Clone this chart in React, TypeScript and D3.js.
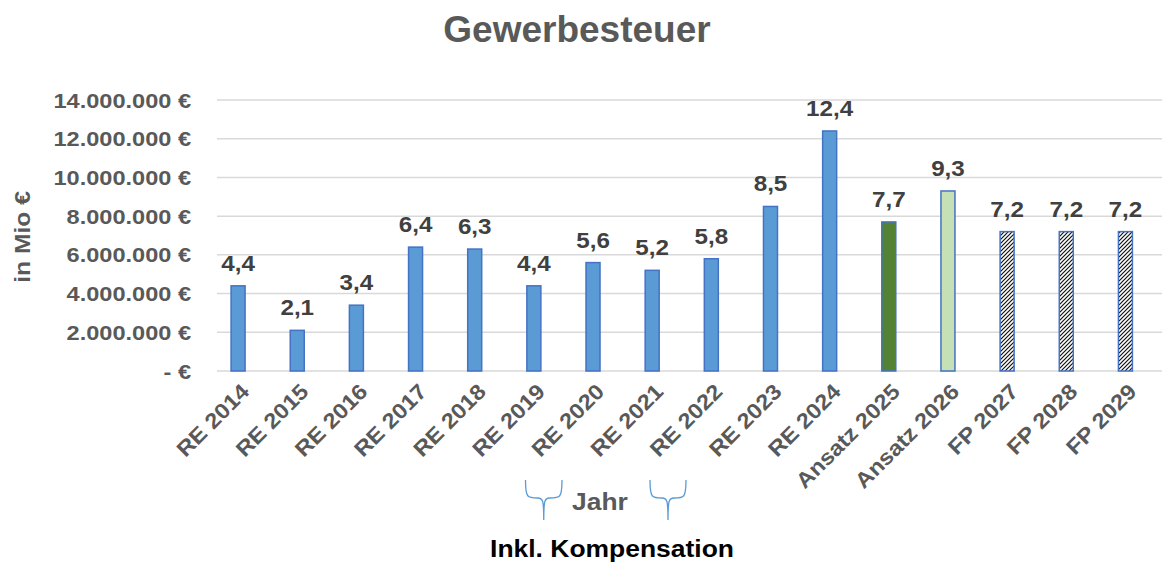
import React from "react";
import * as d3 from "d3";

const categories = ["RE 2014","RE 2015","RE 2016","RE 2017","RE 2018","RE 2019","RE 2020","RE 2021","RE 2022","RE 2023","RE 2024","Ansatz 2025","Ansatz 2026","FP 2027","FP 2028","FP 2029"];
const values = [4.4, 2.1, 3.4, 6.4, 6.3, 4.4, 5.6, 5.2, 5.8, 8.5, 12.4, 7.7, 9.3, 7.2, 7.2, 7.2];
const kinds = ["re","re","re","re","re","re","re","re","re","re","re","ansatz1","ansatz2","fp","fp","fp"];
const yTicks = [0, 2000000, 4000000, 6000000, 8000000, 10000000, 12000000, 14000000];

const W = 1162, H = 563;
const left = 217, right = 1163.5, top = 100, bottom = 371;

export default function App() {
  const x = d3.scaleBand<string>().domain(categories).range([left, right]).padding(0);
  const y = d3.scaleLinear().domain([0, 14000000]).range([bottom, top]);
  const bw = 14;
  const offset = -8.5;
  const fmt = (v: number) => v === 0 ? "- €" : d3.format(",")(v).replace(/,/g, ".") + " €";
  const fill = (k: string) => k === "re" ? "#5B9BD5" : k === "ansatz1" ? "#548235" : k === "ansatz2" ? "#C5E0B4" : "url(#hatch)";
  const font = "'Liberation Sans', Arial, sans-serif";

  const brace = (x0: number, x1: number, y0: number, y1: number) => {
    const xm = (x0 + x1) / 2;
    const ym = y0 + (y1 - y0) * 0.45;
    return `M${x0},${y0} C${x0},${ym} ${x0+2},${ym} ${xm-6},${ym} C${xm-1},${ym} ${xm},${ym+2} ${xm},${y1}` +
      ` M${x1},${y0} C${x1},${ym} ${x1-2},${ym} ${xm+6},${ym} C${xm+1},${ym} ${xm},${ym+2} ${xm},${y1}`;
  };

  return (
    <svg width={W} height={H} style={{ position: "absolute", left: 0, top: 0, background: "#fff" }} fontFamily={font}>
      <defs>
        <pattern id="hatch" patternUnits="userSpaceOnUse" width="4" height="4">
          <rect width="4" height="4" fill="#fff" />
          <path d="M-1,1 l2,-2 M0,4 l4,-4 M3,5 l2,-2" stroke="#111" strokeWidth="1.2" />
        </pattern>
      </defs>
      <text x={577} y={41.5} textAnchor="middle" fontSize={37} fontWeight="bold" fill="#595959">Gewerbesteuer</text>
      {yTicks.map(t => (
        <g key={t}>
          <line x1={left} x2={right} y1={y(t)} y2={y(t)} stroke="#D9D9D9" strokeWidth={1.5} />
          <text transform={`translate(191,${y(t) + 7.5}) scale(1.15,1)`} textAnchor="end" fontSize={20.5} fontWeight="bold" fill="#595959">{fmt(t)}</text>
        </g>
      ))}
      <text transform={`translate(30,237) rotate(-90) scale(1.12,1)`} textAnchor="middle" fontSize={22} fontWeight="bold" fill="#595959">in Mio €</text>
      {categories.map((c, i) => {
        const cx = (x(c) as number) + x.bandwidth() / 2;
        const bx = cx + offset;
        const v = values[i];
        return (
          <g key={c}>
            <rect x={bx - bw / 2} y={y(v * 1e6)} width={bw} height={bottom - y(v * 1e6)} fill={fill(kinds[i])} stroke="#4472C4" strokeWidth={1.5} />
            <text transform={`translate(${bx},${y(v * 1e6) - 15}) scale(1.1,1)`} textAnchor="middle" fontSize={22} fontWeight="bold" fill="#404040">{String(v.toFixed(1)).replace(".", ",")}</text>
            <text transform={`translate(${cx + 4},${393}) rotate(-45) scale(1.1,1)`} textAnchor="end" fontSize={21.5} fontWeight="bold" fill="#595959">{c}</text>
          </g>
        );
      })}
      <path d={brace(525.5, 562, 480, 520)} fill="none" stroke="#5B9BD5" strokeWidth={1.3} />
      <path d={brace(650, 686, 480, 520)} fill="none" stroke="#5B9BD5" strokeWidth={1.3} />
      <text transform="translate(600,510) scale(1.1,1)" textAnchor="middle" fontSize={24} fontWeight="bold" fill="#595959">Jahr</text>
      <text transform="translate(612,557) scale(1.08,1)" textAnchor="middle" fontSize={24.5} fontWeight="bold" fill="#000">Inkl. Kompensation</text>
    </svg>
  );
}
